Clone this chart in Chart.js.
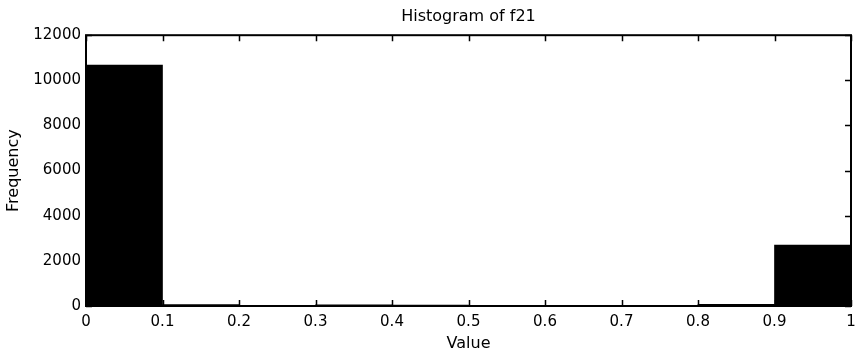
<!DOCTYPE html>
<html>
<head>
<meta charset="utf-8">
<script src="https://cdn.jsdelivr.net/npm/chart.js@4/dist/chart.umd.min.js"></script>
<style>
html,body{margin:0;padding:0;background:#fff;}
#wrap{width:855px;height:356px;position:relative;}
</style>
</head>
<body>
<div id="wrap"><canvas id="c"></canvas></div>
<script>
// Data
const binCenters = [0.05, 0.15, 0.25, 0.35, 0.45, 0.55, 0.65, 0.75, 0.85, 0.95];
const frequencies = [10680, 60, 30, 50, 40, 10, 20, 10, 70, 2700];
const xTicks = [0, 0.1, 0.2, 0.3, 0.4, 0.5, 0.6, 0.7, 0.8, 0.9, 1];
const yTicks = [0, 2000, 4000, 6000, 8000, 10000, 12000];
const titleText = 'Histogram of f21';
const xLabel = 'Value';
const yLabel = 'Frequency';

const FONT = "'DejaVu Sans', sans-serif";

const boxTicks = {
  id: 'boxTicks',
  afterDraw(chart) {
    const {ctx, chartArea: a, scales: {x, y}} = chart;
    ctx.save();
    ctx.strokeStyle = '#000';
    ctx.lineWidth = 1.5;
    const L = 6;
    ctx.beginPath();
    xTicks.forEach(v => {
      const px = Math.round(x.getPixelForValue(v)) + 0.5;
      ctx.moveTo(px, a.bottom); ctx.lineTo(px, a.bottom - L);
      ctx.moveTo(px, a.top); ctx.lineTo(px, a.top + L);
    });
    yTicks.forEach(v => {
      const py = Math.round(y.getPixelForValue(v)) + 0.5;
      ctx.moveTo(a.left, py); ctx.lineTo(a.left + L, py);
      ctx.moveTo(a.right, py); ctx.lineTo(a.right - L, py);
    });
    ctx.stroke();
    ctx.lineWidth = 2;
    ctx.strokeRect(a.left, a.top, a.right - a.left, a.bottom - a.top);
    ctx.restore();
  }
};

new Chart(document.getElementById('c'), {
  type: 'bar',
  data: {
    datasets: [{
      data: binCenters.map((c, i) => ({x: c, y: frequencies[i]})),
      backgroundColor: '#000',
      borderColor: '#000',
      borderWidth: 0,
      barPercentage: 1.0,
      categoryPercentage: 1.0
    }]
  },
  options: {
    responsive: true,
    maintainAspectRatio: false,
    animation: false,
    layout: {padding: {left: 0, right: 4, top: 0, bottom: 0}},
    plugins: {
      legend: {display: false},
      tooltip: {enabled: false},
      title: {
        display: true,
        text: titleText,
        fullSize: false,
        color: '#000',
        font: {family: FONT, size: 16, weight: 'normal'},
        padding: {top: 7, bottom: 9}
      }
    },
    scales: {
      x: {
        type: 'linear',
        min: 0, max: 1,
        offset: false,
        afterBuildTicks(s) { s.ticks = xTicks.map(v => ({value: v})); },
        afterFit(s) { s.height = 50; s.paddingRight = 0; s.paddingLeft = 0; },
        grid: {display: false, drawTicks: false, offset: false},
        border: {display: false},
        ticks: {
          color: '#000',
          font: {family: FONT, size: 15},
          padding: 7,
          maxRotation: 0,
          autoSkip: false,
          callback: v => String(v)
        },
        title: {
          display: true, text: xLabel, color: '#000',
          font: {family: FONT, size: 16}, padding: {top: 0, bottom: 3}
        }
      },
      y: {
        min: 0, max: 12000,
        afterBuildTicks(s) { s.ticks = yTicks.map(v => ({value: v})); },
        afterFit(s) { s.width = 86; s.paddingTop = 0; s.paddingBottom = 0; },
        grid: {display: false, drawTicks: false},
        border: {display: false},
        ticks: {
          color: '#000',
          font: {family: FONT, size: 15},
          padding: 5,
          autoSkip: false,
          callback: v => String(v)
        },
        title: {
          display: true, text: yLabel, color: '#000',
          font: {family: FONT, size: 16}, padding: {top: 4, bottom: 4}
        }
      }
    }
  },
  plugins: [boxTicks]
});
</script>
</body>
</html>
